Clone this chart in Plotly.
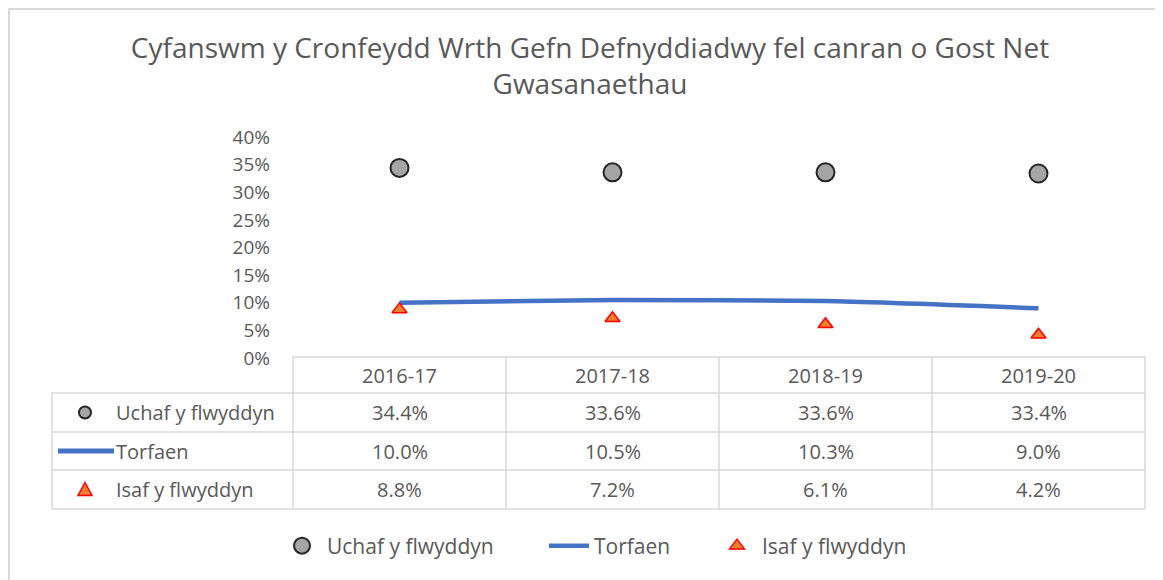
import plotly.graph_objects as go

# ---- data ----
years = ["2016-17", "2017-18", "2018-19", "2019-20"]
uchaf = [34.4, 33.6, 33.6, 33.4]
torfaen = [10.0, 10.5, 10.3, 9.0]
isaf = [8.8, 7.2, 6.1, 4.2]
series_names = ["Uchaf y flwyddyn", "Torfaen", "Isaf y flwyddyn"]
title_text = "Cyfanswm y Cronfeydd Wrth Gefn Defnyddiadwy fel canran o Gost Net<br>Gwasanaethau"
y_ticks = [0, 5, 10, 15, 20, 25, 30, 35, 40]
y_ticklabels = [f"{v}%" for v in y_ticks]

# ---- geometry (target image coords; page body has 8px margin) ----
OFF = 8
W, H = 1163 - OFF, 580 - OFF
PLOT_X0, PLOT_X1 = 293, 1145
PLOT_Y0, PLOT_Y1 = 137, 358
L, R = PLOT_X0 - OFF, 1163 - PLOT_X1
T, B = PLOT_Y0 - OFF, 580 - PLOT_Y1
PW, PH = PLOT_X1 - PLOT_X0, PLOT_Y1 - PLOT_Y0

def px(x):
    return (x - PLOT_X0) / PW

def py(y):
    return (PLOT_Y1 - y) / PH

GRAY_TXT = "#595959"
GRID = "#D9D9D9"
FONT = "Open Sans"
BLUE = "#4472C4"
FS = 19

xs = list(range(len(years)))

fig = go.Figure()
fig.add_trace(go.Scatter(
    x=xs, y=uchaf, name=series_names[0], mode="markers", legend="legend",
    marker=dict(symbol="circle", size=18, color="#A5A5A5",
                line=dict(color="#262626", width=2)),
))
fig.add_trace(go.Scatter(
    x=xs, y=torfaen, name=series_names[1], mode="lines", legend="legend2",
    line=dict(color=BLUE, width=4.5, shape="spline", smoothing=0.6),
))
fig.add_trace(go.Scatter(
    x=xs, y=isaf, name=series_names[2], mode="markers", legend="legend3",
    marker=dict(symbol="triangle-up", size=13, color="#ED7D31",
                line=dict(color="#FF0000", width=1.5)),
))

shapes = []
annotations = []

# outer chart border (as close to the page edge as the body margin allows)
shapes.append(dict(type="rect", xref="paper", yref="paper",
                   x0=px(9), x1=px(1175), y0=py(592), y1=py(9),
                   line=dict(color=GRID, width=2), layer="below"))

# data table
row_y = [357, 393, 432, 470, 509]
tbl_left = 52
line_style = dict(color=GRID, width=1.5)
shapes.append(dict(type="line", xref="paper", yref="paper",
                   x0=0, x1=1, y0=py(row_y[0]), y1=py(row_y[0]), line=line_style))
for yy in row_y[1:]:
    shapes.append(dict(type="line", xref="paper", yref="paper",
                       x0=px(tbl_left), x1=1, y0=py(yy), y1=py(yy), line=line_style))
n = len(years)
for i in range(n + 1):
    xx = i / n
    shapes.append(dict(type="line", xref="paper", yref="paper",
                       x0=xx, x1=xx, y0=py(row_y[0]), y1=py(row_y[-1]), line=line_style))
shapes.append(dict(type="line", xref="paper", yref="paper",
                   x0=px(tbl_left), x1=px(tbl_left), y0=py(row_y[1]), y1=py(row_y[-1]),
                   line=line_style))

tfont = dict(family=FONT, size=20, color=GRAY_TXT)
for i, yr in enumerate(years):
    annotations.append(dict(text=yr, xref="paper", yref="paper",
                            x=(i + 0.5) / n, y=py((row_y[0] + row_y[1]) / 2),
                            showarrow=False, font=tfont, xanchor="center", yanchor="middle"))
rows = [uchaf, torfaen, isaf]
for r, vals in enumerate(rows):
    yc = py((row_y[r + 1] + row_y[r + 2]) / 2)
    annotations.append(dict(text=series_names[r], xref="paper", yref="paper",
                            x=px(114), y=yc, showarrow=False, font=tfont,
                            xanchor="left", yanchor="middle"))
    for i, v in enumerate(vals):
        annotations.append(dict(text=f"{v:.1f}%", xref="paper", yref="paper",
                                x=(i + 0.5) / n, y=yc, showarrow=False, font=tfont,
                                xanchor="center", yanchor="middle"))

# table legend keys
cy0 = (row_y[1] + row_y[2]) / 2
shapes.append(dict(type="circle", xref="paper", yref="paper",
                   x0=px(85 - 6), x1=px(85 + 6), y0=py(cy0 + 6), y1=py(cy0 - 6),
                   fillcolor="#A5A5A5", line=dict(color="#262626", width=2)))
cy1 = (row_y[2] + row_y[3]) / 2
shapes.append(dict(type="line", xref="paper", yref="paper",
                   x0=px(58), x1=px(114), y0=py(cy1), y1=py(cy1),
                   line=dict(color=BLUE, width=5)))
cy2 = (row_y[3] + row_y[4]) / 2
tri = (f"M {px(78)},{py(cy2 + 6)} L {px(92)},{py(cy2 + 6)} "
       f"L {px(85)},{py(cy2 - 7)} Z")
shapes.append(dict(type="path", xref="paper", yref="paper", path=tri,
                   fillcolor="#ED7D31", line=dict(color="#FF0000", width=1.5)))

leg_font = dict(family=FONT, size=21, color=GRAY_TXT)

def leg(xpix):
    return dict(orientation="h", x=px(xpix), xanchor="left", y=py(546),
                yanchor="middle", font=leg_font, itemwidth=40,
                bgcolor="rgba(0,0,0,0)")

fig.update_layout(
    width=W, height=H,
    margin=dict(l=L, r=R, t=T, b=B),
    paper_bgcolor="white", plot_bgcolor="white",
    title=dict(text=title_text, x=(590 - OFF) / W, xref="container", xanchor="center",
               y=1 - (58 - OFF) / H, yref="container", yanchor="middle",
               font=dict(family=FONT, size=28, color=GRAY_TXT)),
    xaxis=dict(range=[-0.5, 3.5], showticklabels=False, showgrid=False,
               zeroline=False, showline=False, fixedrange=True),
    yaxis=dict(range=[0, 40], tickvals=y_ticks, ticktext=y_ticklabels, showgrid=False,
               zeroline=False, showline=False, ticklabelstandoff=22,
               tickfont=dict(family=FONT, size=FS, color=GRAY_TXT)),
    legend=leg(277),
    legend2=leg(544),
    legend3=leg(712),
    showlegend=True,
    shapes=shapes,
    annotations=annotations,
)

fig.write_html("out.html")
